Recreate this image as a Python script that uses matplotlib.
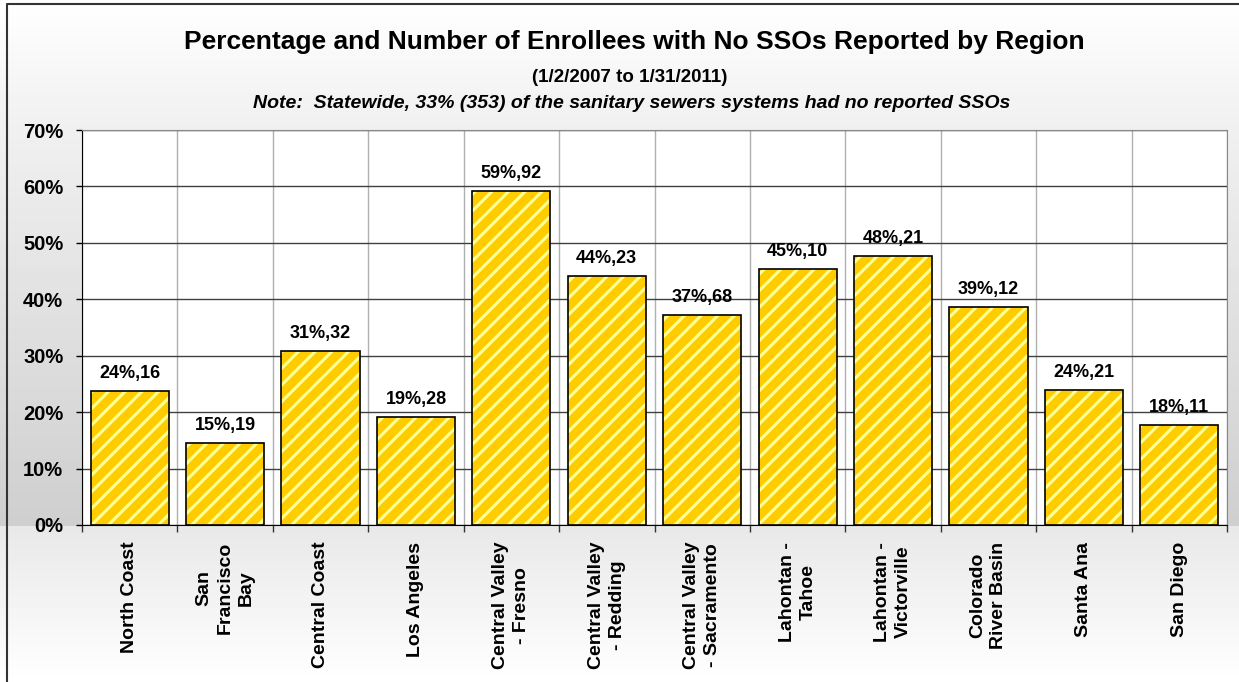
import numpy as np
import matplotlib
matplotlib.use('Agg')
import matplotlib.pyplot as plt
from matplotlib.lines import Line2D

# Datos del grafico
regiones = ['North Coast', 'San\nFrancisco\nBay', 'Central Coast', 'Los Angeles',
            'Central Valley\n- Fresno', 'Central Valley\n- Redding',
            'Central Valley\n- Sacramento', 'Lahontan -\nTahoe', 'Lahontan -\nVictorville',
            'Colorado\nRiver Basin', 'Santa Ana', 'San Diego']
porcentajes = [23.8, 14.6, 30.8, 19.2, 59.2, 44.1, 37.2, 45.4, 47.7, 38.7, 24.0, 17.7]
conteos = [16, 19, 32, 28, 92, 23, 68, 10, 21, 12, 21, 11]
ticksY = [0, 10, 20, 30, 40, 50, 60, 70]

plt.rcParams['font.family'] = ['Liberation Sans', 'DejaVu Sans']
plt.rcParams['font.weight'] = 'bold'
plt.rcParams['hatch.linewidth'] = 2.2

W, H = 1239, 682
fig = plt.figure(figsize=(W / 100, H / 100), dpi=100)

# Fondo degradado de la figura
fondo = fig.add_axes([0, 0, 1, 1], zorder=-10)
yy = np.arange(H)
gris = np.interp(yy, [0, 129, 130, 525, 526, 682], [1.0, 0.94, 0.94, 0.81, 0.91, 1.0])
fondo.imshow(gris[:, None], aspect='auto', cmap='gray', vmin=0, vmax=1,
             extent=[0, 1, 0, 1], origin='upper')
fondo.set_xlim(0, 1)
fondo.set_ylim(0, 1)
fondo.axis('off')

# Borde exterior
borde = Line2D([7 / W, 7 / W, 1.0], [0, 1 - 4 / H, 1 - 4 / H], transform=fig.transFigure,
               color='#333333', lw=1.5)
fig.add_artist(borde)

ax = fig.add_axes([82 / W, 1 - 525 / H, (1227 - 82) / W, (525 - 130) / H])
ax.set_facecolor('white')

x = np.arange(len(regiones))
ax.bar(x, porcentajes, width=0.82, color='#FFCC00', edgecolor='#FFFF99', hatch='//',
       linewidth=0, zorder=3)
ax.bar(x, porcentajes, width=0.82, fill=False, edgecolor='black', linewidth=1.2, zorder=4)

for xi, p, c in zip(x, porcentajes, conteos):
    ax.annotate(f'{round(p)}%,{c}', (xi, p), xytext=(0, 6.5), textcoords='offset points',
                ha='center', va='bottom', fontsize=13, fontweight='bold', zorder=5)

ax.set_xlim(-0.5, len(regiones) - 0.5)
ax.set_ylim(0, 70)
ax.set_yticks(ticksY, [f'{v}%' for v in ticksY])
ax.tick_params(axis='y', length=4.5, width=1, pad=9, labelsize=14.5)

ax.set_xticks(np.arange(-0.5, len(regiones), 1), [''] * (len(regiones) + 1))
ax.tick_params(axis='x', which='major', length=5, width=1, color='#333333')
ax.set_xticks(x, regiones, minor=True)
ax.tick_params(axis='x', which='minor', length=0, pad=12, labelsize=14, labelrotation=90)
for t in ax.get_xticklabels(minor=True):
    t.set_fontweight('bold')
    t.set_multialignment('center')
    t.set_linespacing(1.3)
for t in ax.get_yticklabels():
    t.set_fontweight('bold')

ax.grid(axis='y', color='#404040', linewidth=1, zorder=1)
ax.grid(axis='x', which='major', color='#b0b0b0', linewidth=1, zorder=1)
ax.set_axisbelow(True)
ax.spines['top'].set_color('#888888')
ax.spines['right'].set_color('#888888')
ax.spines['left'].set_color('black')
ax.spines['bottom'].set_color('black')

# Titulos
fig.text(0.512, 1 - 42 / H, 'Percentage and Number of Enrollees with No SSOs Reported by Region',
         ha='center', va='center', fontsize=19, fontweight='bold')
fig.text(0.508, 1 - 77 / H, '(1/2/2007 to 1/31/2011)', ha='center', va='center',
         fontsize=13.5, fontweight='bold')
fig.text(0.51, 1 - 104 / H,
         'Note:  Statewide, 33% (353) of the sanitary sewers systems had no reported SSOs',
         ha='center', va='center', fontsize=14, fontweight='bold', style='italic')

fig.savefig('out.png', dpi=100)
